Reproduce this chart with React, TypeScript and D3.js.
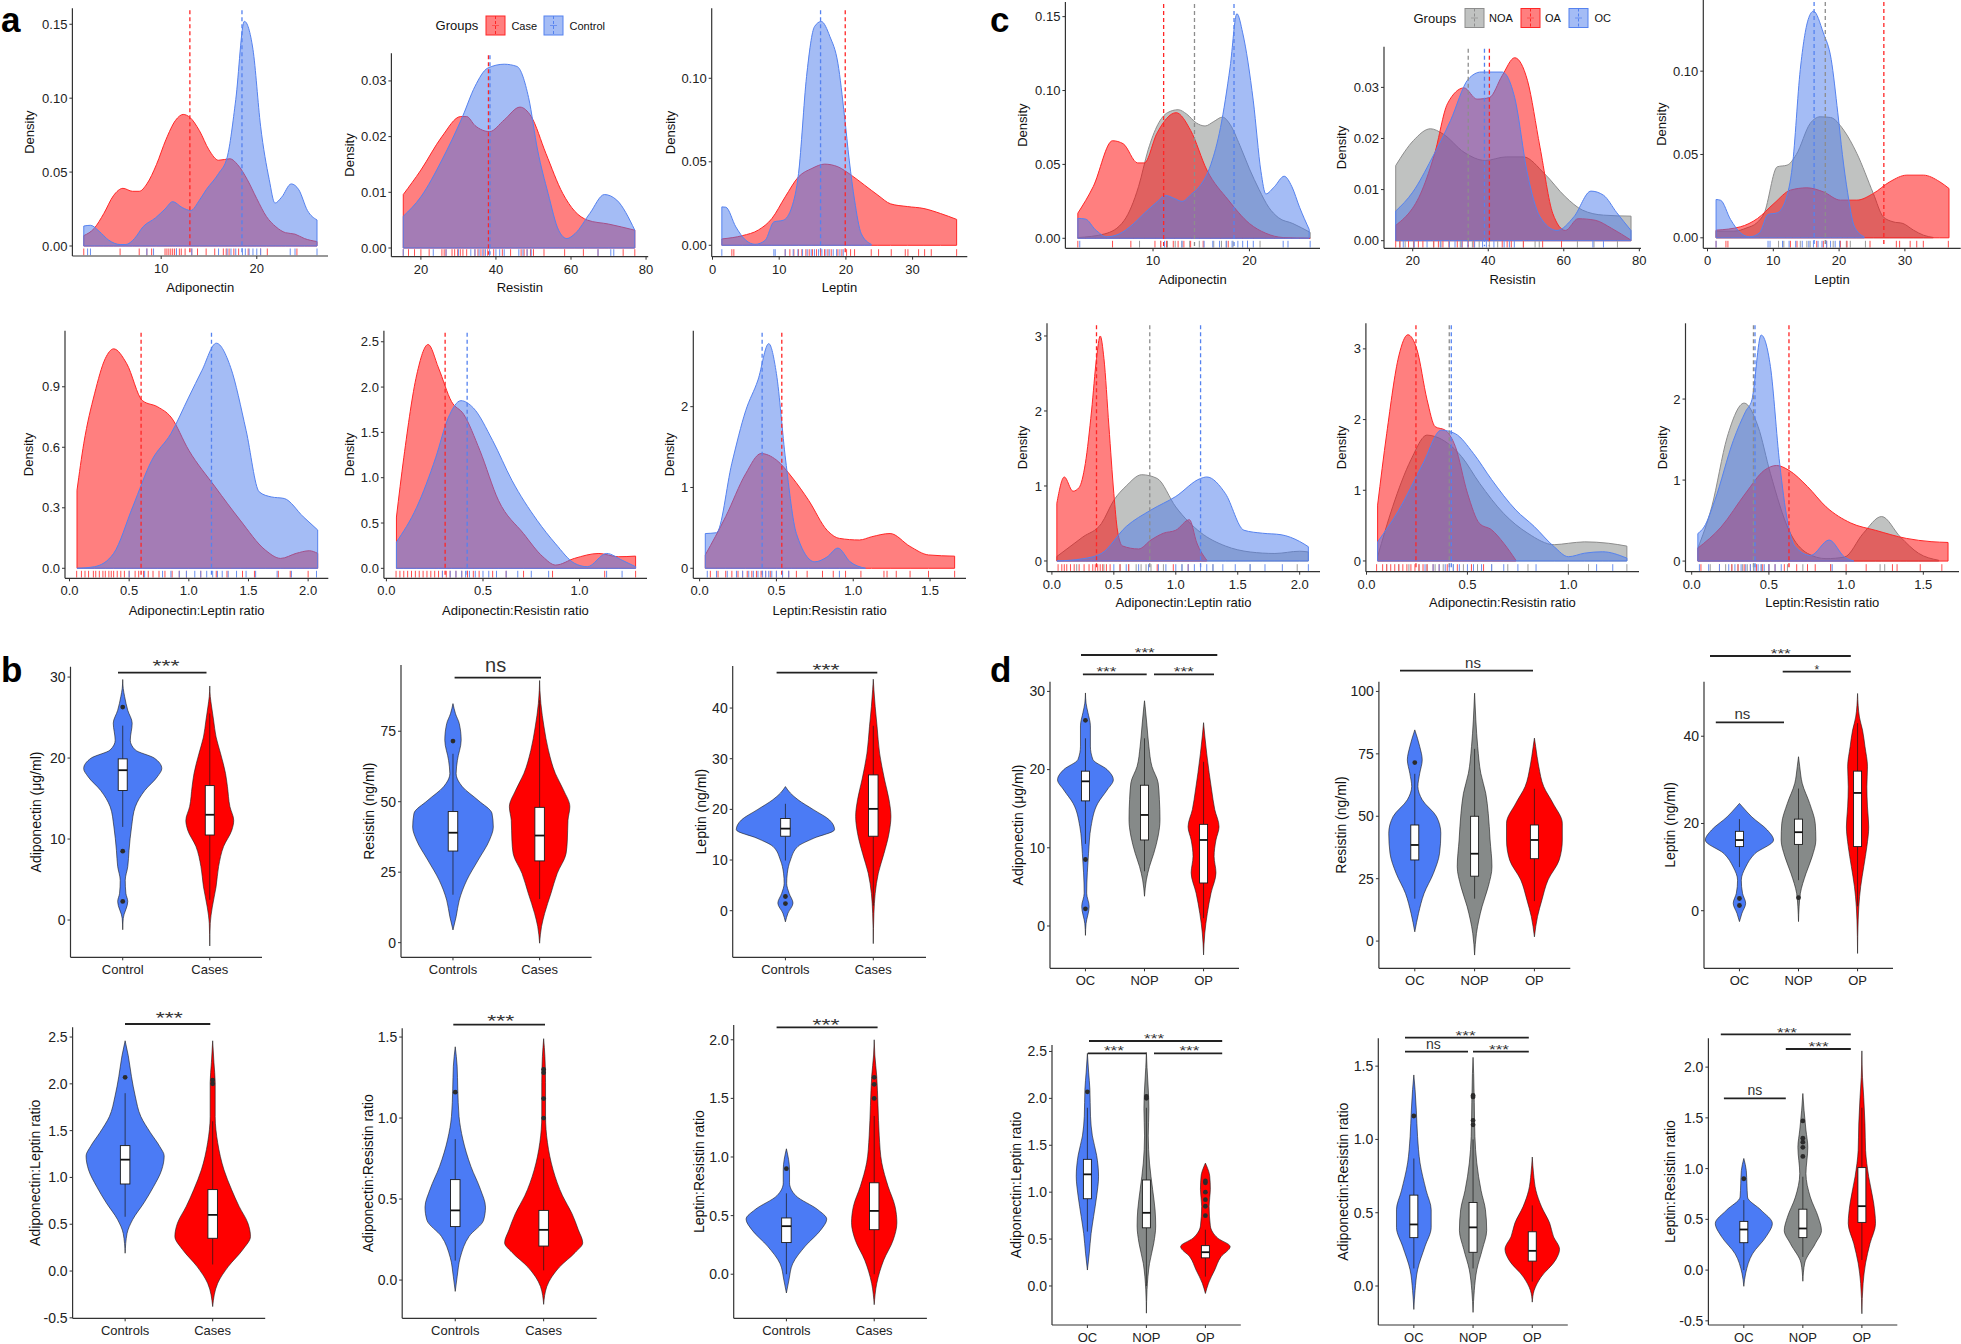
import React from "react";
import * as d3 from "d3";

type Pt = [number, number];
type Col = "red" | "blue" | "gray";

const FONT = "'Liberation Sans', Arial, Helvetica, sans-serif";
const FILL: Record<Col, string> = { red: "#ff0000", blue: "#4979eb", gray: "#818584" };
const LINE: Record<Col, string> = { red: "#ff2626", blue: "#5582ef", gray: "#8d8d8d" };
const RUG: Record<Col, string> = { red: "#ff5050", blue: "#6b90f0", gray: "#9c9c9c" };
const VIO: Record<Col, string> = { red: "#ff0000", blue: "#4b7bf5", gray: "#868a89" };

// group names / colours
const aGroups = ["Case", "Control"];
const cGroups = ["NOA", "OA", "OC"];
const aCols: Col[] = ["red", "blue"];
const cCols: Col[] = ["gray", "red", "blue"];
const bCats = ["Controls", "Cases"];
const dCats = ["OC", "NOP", "OP"];
const bCols: Col[] = ["blue", "red"];
const dCols: Col[] = ["blue", "gray", "red"];

// ---------------- density curves: [value, density] ----------------
const a1Case: Pt[] = [[1.9,0.007],[3,0.012],[4,0.022],[5,0.034],[6,0.039],[7,0.037],[7.7,0.037],[8.5,0.042],[9.5,0.055],[10.5,0.072],[11.5,0.085],[12.3,0.089],[13,0.087],[14,0.078],[15,0.065],[16,0.058],[17.2,0.059],[18,0.055],[19,0.045],[20,0.032],[21,0.02],[22,0.013],[23,0.009],[24,0.008],[25,0.005],[26.3,0.003]];
const a1Control: Pt[] = [[1.9,0.0135],[2.6,0.014],[3.5,0.01],[4.5,0.004],[5.7,0.001],[6.3,0.001],[7.2,0.005],[8.1,0.013],[9.4,0.019],[10.4,0.025],[11.2,0.03],[12.2,0.026],[13.1,0.024],[14,0.031],[14.7,0.038],[16,0.049],[16.9,0.06],[17.8,0.099],[18.7,0.152],[19.6,0.133],[20.4,0.081],[21.3,0.045],[21.9,0.029],[22.6,0.033],[23.6,0.042],[24.4,0.038],[25.3,0.024],[26.3,0.0176]];
const a2Case: Pt[] = [[15.3,0.0096],[20,0.014],[25.6,0.02],[30.6,0.0236],[32.2,0.0236],[34.4,0.022],[38.3,0.0209],[42.2,0.023],[46.4,0.0253],[49.4,0.0236],[53.3,0.017],[57.8,0.0098],[61,0.0066],[64.4,0.005],[70,0.0043],[77,0.0032]];
const a2Control: Pt[] = [[15.3,0.0057],[20,0.0092],[25.6,0.0158],[31.1,0.0236],[34.4,0.029],[37.8,0.0323],[42.2,0.033],[45.6,0.0326],[48.7,0.027],[51.1,0.0176],[53.9,0.0098],[56.7,0.0032],[58.9,0.0017],[61.1,0.0026],[65,0.0062],[68.9,0.0096],[72.2,0.0086],[77,0.0032]];
const a3Case: Pt[] = [[1.4,0.0038],[4.5,0.0058],[6.9,0.0092],[8.9,0.016],[10.9,0.029],[12.9,0.041],[14.9,0.046],[16.8,0.0486],[18.8,0.047],[20.8,0.042],[22.8,0.036],[24.8,0.03],[26.7,0.0248],[29.2,0.0232],[31.7,0.022],[34.2,0.019],[36.6,0.0155]];
const a3Control: Pt[] = [[1.4,0.023],[2,0.0228],[3.5,0.011],[5,0.003],[6.4,0.0006],[7.9,0.003],[9.2,0.014],[10.6,0.015],[11.9,0.023],[12.9,0.043],[14.1,0.101],[15.3,0.131],[16.3,0.134],[17.6,0.125],[18.8,0.109],[19.8,0.077],[20.5,0.051],[21.3,0.027],[22.3,0.007],[23.8,0.0006]];
const c1NOA: Pt[] = [[2.2,0.0005],[5,0.003],[7,0.012],[8.5,0.035],[9.5,0.06],[10.5,0.077],[11.5,0.085],[12.6,0.087],[13.5,0.084],[14.5,0.078],[15.4,0.076],[16.3,0.079],[17.2,0.082],[18,0.077],[19,0.063],[20,0.047],[21,0.033],[22,0.021],[23,0.014],[24.5,0.01],[26.3,0.004]];
const c1OA: Pt[] = [[2.2,0.017],[3.8,0.035],[5.8,0.066],[6.9,0.064],[8.4,0.051],[9.1,0.051],[10.4,0.071],[12.4,0.085],[13.9,0.073],[15.6,0.046],[17.8,0.026],[20,0.01],[21.7,0.0034],[23.5,0.0005],[26.3,0]];
const c1OC: Pt[] = [[2.2,0.0135],[3,0.013],[4,0.006],[5.2,0.001],[6.5,0.003],[8,0.01],[9.1,0.017],[10.3,0.024],[11.3,0.029],[12.2,0.027],[13,0.025],[14,0.03],[14.8,0.035],[16,0.05],[17,0.075],[18,0.116],[18.7,0.152],[19.3,0.139],[20.4,0.093],[21.2,0.045],[21.7,0.03],[22.6,0.035],[23.6,0.042],[24.4,0.035],[25.2,0.021],[26.2,0.006]];
const c2NOA: Pt[] = [[15.5,0.0147],[20.2,0.0196],[24.7,0.0219],[28,0.0209],[33.6,0.0173],[39.2,0.0157],[44.8,0.0164],[49.3,0.0164],[54.9,0.0131],[60.4,0.0086],[64.9,0.006],[70.5,0.005],[77.8,0.0048]];
const c2OA: Pt[] = [[15.5,0.003],[22.5,0.0099],[25.8,0.017],[29.2,0.0268],[33.6,0.0299],[37,0.0277],[40.3,0.028],[43.7,0.0323],[47,0.0358],[50.4,0.0313],[53.7,0.0183],[57.1,0.0053],[60.4,0.002],[63.8,0.0043],[68.3,0.004],[72.7,0.0024],[77.8,0.0001]];
const c2OC: Pt[] = [[15.5,0.0058],[20,0.0095],[25,0.016],[30,0.0235],[34.7,0.0316],[38.1,0.033],[43.7,0.033],[47,0.028],[50.4,0.013],[53.7,0.0047],[58.2,0.002],[62.7,0.0047],[67.2,0.0097],[70.5,0.0089],[74,0.0055],[77.8,0.002]];
const c3NOA: Pt[] = [[1.3,0.004],[4,0.004],[6,0.006],[7.5,0.009],[8.6,0.0146],[10.6,0.0426],[12.1,0.0436],[13.5,0.05],[15.6,0.0686],[17.1,0.0726],[18.7,0.0722],[20.7,0.0646],[22.7,0.0506],[25.2,0.0266],[26.7,0.0126],[28.2,0.0096],[29.7,0.0086],[31.3,0.0046],[32.8,0.0016],[34.3,0.0002]];
const c3OA: Pt[] = [[1.3,0.0046],[5,0.0066],[7.6,0.0116],[10.1,0.0206],[12.6,0.0286],[15.1,0.03],[17.6,0.0276],[20.2,0.0226],[22.7,0.0226],[25.2,0.0266],[27.7,0.0336],[30.3,0.0376],[32.8,0.0376],[35.3,0.0336],[36.7,0.0296]];
const c3OC: Pt[] = [[1.3,0.023],[2,0.0225],[3.5,0.011],[5,0.003],[6.4,0.0006],[7.9,0.003],[9.2,0.014],[10.6,0.015],[11.9,0.023],[12.9,0.043],[14.1,0.101],[15.3,0.131],[16.1,0.136],[17.6,0.123],[18.8,0.107],[19.8,0.075],[20.5,0.05],[21.3,0.027],[22.3,0.007],[23.8,0.0006]];
const a4Case: Pt[] = [[0.063,0.387],[0.12,0.62],[0.21,0.865],[0.3,1.04],[0.37,1.088],[0.48,1.014],[0.61,0.832],[0.74,0.8],[0.85,0.75],[1.0,0.585],[1.22,0.404],[1.43,0.239],[1.64,0.091],[1.77,0.049],[1.9,0.074],[2.01,0.087],[2.08,0.074]];
const a4Control: Pt[] = [[0.063,0],[0.21,0.008],[0.37,0.074],[0.53,0.305],[0.69,0.536],[0.85,0.668],[1.0,0.849],[1.11,0.981],[1.23,1.116],[1.35,0.997],[1.48,0.684],[1.59,0.379],[1.69,0.354],[1.8,0.346],[1.96,0.255],[2.08,0.19]];
const a5Case: Pt[] = [[0.052,0.566],[0.09,1.22],[0.157,2.135],[0.216,2.47],[0.27,2.21],[0.337,1.84],[0.4,1.7],[0.484,1.3],[0.58,0.75],[0.71,0.383],[0.81,0.128],[0.876,0.036],[0.974,0.11],[1.1,0.164],[1.2,0.128],[1.29,0.135]];
const a5Control: Pt[] = [[0.052,0.29],[0.157,0.675],[0.255,1.22],[0.32,1.66],[0.386,1.85],[0.45,1.77],[0.55,1.41],[0.65,0.97],[0.78,0.53],[0.876,0.27],[0.974,0.055],[1.04,0.018],[1.14,0.164],[1.22,0.09],[1.29,0.018]];
const a6Case: Pt[] = [[0.037,0.165],[0.17,0.64],[0.3,1.17],[0.4,1.42],[0.5,1.34],[0.6,1.13],[0.71,0.84],[0.83,0.47],[0.91,0.37],[1.04,0.35],[1.12,0.39],[1.24,0.43],[1.37,0.27],[1.49,0.165],[1.66,0.15]];
const a6Control: Pt[] = [[0.037,0.43],[0.11,0.44],[0.21,1.3],[0.3,1.95],[0.38,2.33],[0.45,2.78],[0.5,2.41],[0.56,1.34],[0.63,0.43],[0.75,0.08],[0.83,0.14],[0.9,0.25],[0.98,0.08],[1.08,0]];
const c4NOA: Pt[] = [[0.04,0.06],[0.25,0.32],[0.4,0.5],[0.5,0.81],[0.6,1.0],[0.725,1.15],[0.85,1.1],[1.0,0.72],[1.2,0.38],[1.4,0.2],[1.6,0.12],[1.8,0.1],[2.0,0.13],[2.07,0.12]];
const c4OA: Pt[] = [[0.04,0.77],[0.1,1.12],[0.17,0.93],[0.22,0.98],[0.27,1.3],[0.32,2.0],[0.36,2.7],[0.39,3.0],[0.42,2.7],[0.46,1.8],[0.5,0.9],[0.53,0.4],[0.57,0.2],[0.7,0.16],[0.8,0.28],[0.9,0.37],[1.0,0.41],[1.11,0.55],[1.17,0.24],[1.25,0.01]];
const c4OC: Pt[] = [[0.04,0],[0.25,0.03],[0.4,0.1],[0.6,0.46],[0.8,0.68],[1.0,0.86],[1.2,1.1],[1.25,1.12],[1.4,0.9],[1.55,0.41],[1.7,0.37],[1.85,0.35],[2.0,0.26],[2.07,0.19]];
const c5NOA: Pt[] = [[0.055,0.06],[0.13,0.77],[0.22,1.43],[0.3,1.78],[0.34,1.76],[0.4,1.67],[0.47,1.48],[0.56,1.1],[0.68,0.67],[0.8,0.39],[0.93,0.23],[1.0,0.25],[1.08,0.27],[1.2,0.25],[1.29,0.21]];
const c5OA: Pt[] = [[0.055,0.79],[0.1,1.8],[0.16,2.9],[0.205,3.2],[0.25,2.99],[0.3,2.28],[0.34,1.9],[0.39,1.85],[0.44,1.62],[0.5,0.96],[0.56,0.53],[0.62,0.44],[0.68,0.25],[0.74,0.01]];
const c5OC: Pt[] = [[0.055,0.27],[0.16,0.72],[0.28,1.38],[0.37,1.85],[0.44,1.8],[0.53,1.52],[0.62,1.15],[0.74,0.72],[0.83,0.49],[0.93,0.2],[1.0,0.06],[1.08,0.11],[1.17,0.13],[1.29,0.04]];
const c6NOA: Pt[] = [[0.04,0.16],[0.13,0.67],[0.23,1.53],[0.34,1.95],[0.43,1.66],[0.51,1.08],[0.63,0.38],[0.75,0.095],[0.87,0.03],[0.99,0.05],[1.11,0.34],[1.23,0.55],[1.35,0.3],[1.47,0.095],[1.6,0.01]];
const c6OA: Pt[] = [[0.04,0.16],[0.19,0.42],[0.35,0.84],[0.47,1.12],[0.55,1.18],[0.63,1.12],[0.75,0.92],[0.87,0.67],[1.03,0.47],[1.19,0.38],[1.39,0.28],[1.55,0.24],[1.66,0.23]];
const c6OC: Pt[] = [[0.04,0.34],[0.08,0.42],[0.15,0.75],[0.27,1.49],[0.35,1.85],[0.39,1.99],[0.45,2.79],[0.51,2.4],[0.57,1.2],[0.62,0.5],[0.67,0.18],[0.77,0.07],[0.89,0.26],[0.99,0.05],[1.05,0]];

// group means (dashed lines), in group order
const a1Mean = [13.0, 18.45], a2Mean = [38.0, 38.4], a3Mean = [19.9, 16.2];
const c1Mean = [14.3, 11.1, 18.4], c2Mean = [34.7, 40.3, 39.0], c3Mean = [17.9, 26.8, 16.2];
const a4Mean = [0.6, 1.19], a5Mean = [0.304, 0.418], a6Mean = [0.535, 0.407];
const c4Mean = [0.79, 0.36, 1.2], c5Mean = [0.41, 0.245, 0.42], c6Mean = [0.4, 0.63, 0.41];

// rug values
const a1Rug = [
  [1.9,5.7,7.7,8.5,9.0,10.4,10.6,10.8,11.0,11.2,11.4,11.6,11.9,12.1,12.5,13.2,13.8,14.7,15.6,16.5,16.8,17.1,17.6,18.1,19.1,20.4,21.1,24.2],
  [2.3,2.6,8.5,9.2,11.6,13.2,16,16.9,17.3,17.8,18.5,18.8,19.2,19.6,20.0,20.4,23.5,24.0,26.3],
];
const a2Rug = [
  [15.3,16.7,18.3,20,22.2,25.6,26.2,26.7,28.3,29,29.8,30.5,31.2,32.2,34.4,35.2,36,36.8,37.8,39.4,41.7,43.9,46.7,47.5,48.3,49.2,50,52.8,58.3,63.3,67.2,73.9,77],
  [15.3,23.3,26.7,30,33.3,34.4,35.5,36.5,37.2,38.3,40,41,42.2,46.1,47.2,48.3,49.4,67.2,70.6,71.4],
];
const a3Rug = [
  [2.9,3.2,10.9,11.6,12.2,12.9,13.4,14,14.5,15,15.6,16.2,16.8,17.3,17.8,18.8,19.4,20.1,20.7,21.3,23.8,24.9,26.8,28.9,29.3,30.9,31.8,32.8,36.6],
  [1.4,9.2,9.4,10.9,12.1,12.8,13.5,14.2,14.8,15.3,15.9,16.4,17,17.5,18.1,18.6,19.1,19.6],
];
const c1Rug = [
  [8.6,10.8,11.5,12.3,13,13.8,14.8,16.3,17.1,17.6,18.3,21.1],
  [2.2,5.8,7.7,10.2,10.8,11.4,12.1,12.6,13.2,13.9,15.2,17.8,19.8],
  [2.4,11.2,13,15.3,16.2,16.9,17.6,18.2,18.8,19.3,19.8,20.4,23.5,24,26.3],
];
const c2Rug = [
  [16.6,18,20.2,25.5,27.5,29.7,32.6,35.8,37.6,40.3,42.5,49.3,52.4,53.5,63.6,68,74.2],
  [15.5,16.6,18.9,20.3,21.5,22.7,25.6,26.8,28,29.6,31.8,33.1,34.7,36.2,43.7,45,46.1,49.3,54.4,59.4],
  [17.5,20.4,23.8,27.3,29.7,31.2,33,34.6,36.4,38.5,39.5,41.5,44.2,45.6,46.9,67.7,70.5],
];
const c3Rug = [
  [10.8,11.6,14.1,15.1,15.6,18.1,19.1,20.1,21.1,21.7,24],
  [1.3,2.8,3.1,12.6,13.6,16.6,17.6,18.1,20.2,21.2,24.7,28.7,29.2,30.8,31.8,32.8,36.6],
  [1.3,9.2,9.5,11.4,12.4,13.4,14.4,15.4,16.1,16.8,17.4,18.1,18.7,19.4,20.1],
];
const a4Rug = [
  [0.06,0.1,0.13,0.16,0.2,0.22,0.25,0.28,0.3,0.33,0.35,0.37,0.4,0.43,0.46,0.5,0.55,0.58,0.62,0.66,0.7,0.75,0.8,0.86,0.92,0.98,1.1,1.23,1.32,1.45,1.55,1.75,1.85,2.0],
  [0.5,0.63,0.78,0.85,0.92,0.98,1.05,1.1,1.15,1.2,1.24,1.28,1.33,1.4,1.48,1.56,1.74,1.86,2.07],
];
const a5Rug = [
  [0.05,0.07,0.09,0.11,0.13,0.15,0.17,0.19,0.21,0.23,0.25,0.27,0.29,0.31,0.33,0.36,0.39,0.42,0.45,0.48,0.55,0.62,0.71,0.86,1.13,1.29],
  [0.29,0.33,0.36,0.39,0.41,0.43,0.46,0.5,0.53,0.57,0.62,0.68,0.75,0.84,1.14,1.22],
];
const a6Rug = [
  [0.07,0.12,0.17,0.21,0.25,0.28,0.31,0.34,0.37,0.4,0.43,0.46,0.5,0.54,0.58,0.63,0.7,0.8,0.87,0.95,1.05,1.2,1.22,1.28,1.37,1.49,1.66],
  [0.05,0.11,0.18,0.24,0.28,0.32,0.35,0.38,0.41,0.43,0.45,0.47,0.5,0.54,0.58,0.91],
];
const c4Rug = [
  [0.2,0.42,0.55,0.62,0.68,0.72,0.76,0.8,0.9,1.05,1.3,1.6,1.98],
  [0.05,0.08,0.1,0.12,0.15,0.18,0.22,0.26,0.3,0.33,0.35,0.37,0.39,0.41,0.44,0.47,0.55,0.62,0.85,0.98,1.1],
  [0.5,0.6,0.7,0.78,0.86,0.92,1.0,1.05,1.1,1.15,1.2,1.25,1.3,1.38,1.48,1.6,1.72,1.86,2.07],
];
const c5Rug = [
  [0.1,0.16,0.21,0.26,0.3,0.34,0.38,0.43,0.48,0.55,0.62,0.7,0.8,1.0,1.1,1.29],
  [0.05,0.08,0.1,0.12,0.14,0.16,0.18,0.2,0.22,0.24,0.26,0.28,0.3,0.33,0.36,0.4,0.45,0.52,0.58],
  [0.29,0.33,0.36,0.39,0.41,0.43,0.46,0.5,0.53,0.57,0.62,0.68,0.75,0.84,1.14,1.22],
];
const c6Rug = [
  [0.12,0.18,0.22,0.26,0.3,0.33,0.36,0.4,0.45,0.5,0.62,0.72,0.9,1.22,1.25],
  [0.06,0.18,0.26,0.3,0.34,0.38,0.42,0.46,0.5,0.54,0.6,0.68,0.75,0.8,0.9,1.0,1.13,1.3,1.33,1.48,1.62],
  [0.05,0.11,0.18,0.24,0.28,0.32,0.35,0.38,0.41,0.43,0.45,0.47,0.5,0.54,0.58,0.91],
];

// ---------------- violin profiles: [value, relative half width] ----------------
const b1Control: Pt[] = [[-1.2,0],[0.2,0.8],[2.3,8],[3.3,5],[4.9,4],[6.6,8],[8.6,10],[11.5,14],[14,20],[16,35],[17.7,55],[18.7,62],[20,50],[21,20],[22.2,12],[24.3,15],[25.9,8],[27.6,3],[28.6,0.8],[29.7,0]];
const b1Cases: Pt[] = [[-3.2,0],[-0.4,0.8],[1.6,4],[4.1,10],[6.6,14],[9.1,22],[11.1,35],[12.3,38],[14,32],[16.5,28],[18.1,25],[20.6,17],[22.6,10],[24.7,6],[26.3,3],[27.6,0.8],[28.9,0]];
const b2Controls: Pt[] = [[4.5,0],[9.2,5],[15.1,10],[22.2,22],[29.3,40],[36.4,58],[41,64],[45.8,62],[50.5,40],[55.3,15],[60,5],[64.7,7],[71.8,13],[77.7,10],[81.2,4],[84.8,0]];
const b2Cases: Pt[] = [[-0.2,0],[5.7,3],[10.4,8],[17.5,18],[24.6,28],[31.6,42],[36.4,44],[43.4,45],[48.2,48],[54.1,38],[60,25],[68.2,14],[76.5,7],[84.8,2],[89.5,0.5],[93,0]];
const b3Controls: Pt[] = [[-2.2,0],[-0.5,4],[1.5,12],[3.4,6],[5.4,2],[7.4,3],[10,8],[12.7,20],[14.3,45],[16,78],[17.9,70],[19.9,45],[21.9,20],[23.2,8],[24.5,0]];
const b3Cases: Pt[] = [[-6.5,0],[-0.5,1],[3.4,3],[7.4,8],[11.3,17],[15.3,25],[18.6,28],[21.9,25],[25.8,18],[31.1,10],[36.4,6],[40.3,3],[43.6,1],[45.7,0]];
const b4Controls: Pt[] = [[0.19,0],[0.4,3],[0.55,12],[0.73,30],[0.9,45],[1.08,58],[1.23,62],[1.33,55],[1.48,40],[1.65,25],[1.87,16],[2.08,10],[2.3,5],[2.46,0]];
const b4Cases: Pt[] = [[-0.38,0],[-0.13,8],[0.05,25],[0.23,48],[0.37,60],[0.51,56],[0.69,42],[0.87,30],[1.08,18],[1.37,8],[1.65,4],[2.01,4],[2.23,2],[2.46,0]];
const b5Controls: Pt[] = [[-0.07,0],[0.02,3],[0.14,8],[0.27,22],[0.37,45],[0.45,48],[0.56,40],[0.7,25],[0.87,12],[1.01,6],[1.18,4],[1.32,3],[1.44,0]];
const b5Cases: Pt[] = [[-0.15,0],[-0.04,5],[0.08,25],[0.17,50],[0.23,62],[0.31,55],[0.41,45],[0.52,30],[0.68,15],[0.85,6],[1.01,3],[1.22,3],[1.38,2],[1.49,0]];
const b6Controls: Pt[] = [[-0.16,0],[-0.05,4],[0.09,10],[0.24,30],[0.38,55],[0.47,64],[0.55,50],[0.67,15],[0.78,5],[0.89,5],[1.07,0]];
const b6Cases: Pt[] = [[-0.26,0],[-0.08,4],[0.12,15],[0.29,30],[0.44,36],[0.58,33],[0.75,22],[0.95,12],[1.18,8],[1.44,6],[1.69,4],[1.87,1],[2.0,0]];
const d1OC: Pt[] = [[-1.2,0],[0.3,1],[2.5,6],[4.2,2],[6.8,3],[9.3,5],[12.7,9],[15.7,20],[17.4,35],[18.7,45],[20,35],[21.3,12],[23,8],[25.6,8],[27.3,4],[28.5,1],[29.8,0]];
const d1NOP: Pt[] = [[3.8,0],[5.9,3],[7.6,8],[9.3,15],[11.5,22],[13.6,25],[16.2,24],[18.3,22],[20.4,12],[23,7],[25.6,4],[28.1,1],[28.8,0]];
const d1OP: Pt[] = [[-3.7,0],[-0.9,2],[1.6,6],[4.2,12],[6.8,20],[8.9,17],[11,20],[12.7,25],[14.9,18],[17.4,13],[19.6,9],[22.1,5],[24.3,2],[26,0]];
const d2OC: Pt[] = [[3.7,0],[11.1,6],[19.1,15],[27.1,30],[35.2,40],[43.2,42],[49.9,35],[56.6,12],[61.9,5],[67.2,8],[72.6,12],[77.9,8],[84.6,0]];
const d2NOP: Pt[] = [[-5.6,0],[3.1,3],[13.8,12],[21.8,22],[29.8,28],[40.5,25],[51.2,22],[59.2,18],[67.2,10],[77.9,5],[88.6,2],[99.3,0]];
const d2OP: Pt[] = [[1.7,0],[9.8,5],[16.4,12],[24.5,22],[32.5,40],[40.5,45],[47.2,45],[55.2,30],[61.9,15],[69.9,7],[77.9,2],[81.3,0]];
const d3OC: Pt[] = [[-2.5,0],[-0.6,4],[1.7,10],[4,5],[7,3],[10,10],[13.1,25],[16.2,55],[18.5,45],[21.5,20],[23.8,5],[24.6,0]];
const d3NOP: Pt[] = [[-2.5,0],[0.9,1],[4,3],[8.5,12],[12.4,22],[16.2,28],[20,27],[24.6,18],[29.2,6],[33,2],[35.3,0]];
const d3OP: Pt[] = [[-9.8,0],[-2.1,1],[0.9,2],[5.5,5],[10.1,10],[14.7,15],[19.2,18],[23.8,16],[28.4,15],[33,16],[37.6,12],[41.4,8],[44.4,3],[49.8,0]];
const d4OC: Pt[] = [[0.17,0],[0.35,3],[0.56,6],[0.74,10],[0.96,15],[1.17,18],[1.39,15],[1.6,8],[1.81,5],[2.1,4],[2.28,2],[2.48,0]];
const d4NOP: Pt[] = [[-0.29,0],[-0.04,1],[0.24,5],[0.46,12],[0.64,15],[0.81,14],[1.03,10],[1.31,5],[1.6,3],[1.89,4],[2.1,3],[2.33,1],[2.49,0]];
const d4OP: Pt[] = [[-0.08,0],[0.03,5],[0.17,15],[0.31,25],[0.42,40],[0.51,20],[0.64,8],[0.85,6],[1.03,8],[1.17,7],[1.28,2],[1.31,0]];
const d5OC: Pt[] = [[-0.16,0],[-0.03,2],[0.11,6],[0.27,18],[0.4,28],[0.52,28],[0.65,20],[0.84,10],[1.02,6],[1.2,4],[1.34,2],[1.44,0]];
const d5NOP: Pt[] = [[-0.18,0],[-0.03,2],[0.11,6],[0.25,15],[0.38,22],[0.52,20],[0.65,13],[0.84,6],[1.02,3],[1.25,2],[1.45,1],[1.56,0]];
const d5OP: Pt[] = [[-0.11,0],[-0.03,3],[0.06,14],[0.18,38],[0.25,44],[0.34,34],[0.43,28],[0.54,15],[0.65,6],[0.77,2],[0.88,0]];
const d6OC: Pt[] = [[-0.16,0],[-0.03,3],[0.16,14],[0.33,36],[0.46,46],[0.59,28],[0.72,6],[0.85,5],[0.98,4],[1.1,0]];
const d6NOP: Pt[] = [[-0.11,0],[0.07,3],[0.26,20],[0.39,30],[0.52,25],[0.72,12],[0.95,5],[1.21,8],[1.38,5],[1.57,2],[1.74,0]];
const d6OP: Pt[] = [[-0.43,0],[-0.13,2],[0.07,6],[0.26,13],[0.46,22],[0.66,19],[0.92,11],[1.18,6],[1.44,5],[1.7,3],[1.9,1],[2.16,0]];

// box stats: [lower whisker, q1, median, q3, upper whisker]
const b1Box = [[11.5,16,18.5,19.9,24],[2.5,10.5,13,16.6,25.5]];
const b2Box = [[17,32.5,39,46.5,67],[15.5,29,38,48,86]];
const b3Box = [[9.9,14.7,16.2,18.2,21.1],[1,14.7,20.1,26.8,36.5]];
const b4Box = [[0.58,0.93,1.19,1.34,1.9],[0.07,0.35,0.6,0.87,1.6]];
const b5Box = [[0.12,0.33,0.43,0.62,0.87],[0.06,0.21,0.31,0.43,0.75]];
const b6Box = [[0.0,0.27,0.41,0.48,0.69],[0.0,0.38,0.54,0.78,1.35]];
const d1Box = [[10.5,16,18.5,19.8,24],[7,11,14.2,18,24],[1,5.5,11,13,21]];
const d2Box = [[17,32.5,38.5,46.5,67],[17,26,35,50,77],[16,33,40.5,46.5,61]];
const d3Box = [[10,14.7,16.2,18.2,21],[7,15.2,18,21,28],[1,14.7,27,32,43]];
const d4Box = [[0.58,0.93,1.19,1.35,1.9],[0.0,0.62,0.78,1.13,1.9],[0.1,0.3,0.36,0.43,0.6]];
const d5Box = [[0.12,0.33,0.42,0.62,0.87],[0.12,0.23,0.4,0.57,1.0],[0.03,0.17,0.24,0.37,0.55]];
const d6Box = [[0.0,0.27,0.4,0.48,0.69],[0.13,0.32,0.41,0.6,0.92],[0.1,0.47,0.63,1.01,1.6]];

// outliers
const b1Out = [[26.3,8.5,2.3],[]];
const b2Out = [[71.5],[]];
const b3Out = [[1.4,2.8],[]];
const b4Out = [[2.07],[2.0,2.04]];
const b5Out = [[1.16],[1.0,1.12,1.28,1.3]];
const b6Out = [[0.9],[1.5,1.62,1.68]];
const d1Out = [[26.3,8.5,2.2],[],[]];
const d2Out = [[71.5],[],[]];
const d3Out = [[1.2,2.8],[3],[]];
const d4Out = [[2.07],[2.0,2.02],[0.75,0.85,0.92,1.0,1.1,1.12]];
const d5Out = [[1.16],[1.1,1.13,1.29,1.3],[]];
const d6Out = [[0.9],[1.12,1.21,1.26,1.3,1.47],[]];

// ---------------- layout ----------------
type DPanel = {
  box: number[]; xd: [number, number]; yd: [number, number];
  xt: number[]; yt: number[]; xf: string; yf: string;
  xlab: string; xlabY: number; ylabX: number;
  dens: Pt[][]; rug: number[][]; mean: number[]; cols: Col[];
};

const densPanels: DPanel[] = [
  { box:[72.4,328,8.3,256], xd:[0.71,27.45], yd:[-0.00677,0.1608], xt:[10,20], yt:[0,0.05,0.1,0.15], xf:"d", yf:".2f", xlab:"Adiponectin", xlabY:291.5, ylabX:29.5, dens:[a1Case,a1Control], rug:a1Rug, mean:a1Mean, cols:aCols },
  { box:[391.4,648.2,53.3,256.7], xd:[12.14,80.57], yd:[-0.00156,0.03496], xt:[20,40,60,80], yt:[0,0.01,0.02,0.03], xf:"d", yf:".2f", xlab:"Resistin", xlabY:291.5, ylabX:349, dens:[a2Case,a2Control], rug:a2Rug, mean:a2Mean, cols:aCols },
  { box:[711.7,967.3,8.3,256.7], xd:[-0.12,38.2], yd:[-0.00683,0.1419], xt:[0,10,20,30], yt:[0,0.05,0.1], xf:"d", yf:".2f", xlab:"Leptin", xlabY:291.5, ylabX:670, dens:[a3Case,a3Control], rug:a3Rug, mean:a3Mean, cols:aCols },
  { box:[1065.4,1320,2,248.3], xd:[0.91,27.32], yd:[-0.00677,0.1599], xt:[10,20], yt:[0,0.05,0.1,0.15], xf:"d", yf:".2f", xlab:"Adiponectin", xlabY:283.5, ylabX:1022, dens:[c1NOA,c1OA,c1OC], rug:c1Rug, mean:c1Mean, cols:cCols },
  { box:[1384,1641,46.7,248.3], xd:[12.4,80.44], yd:[-0.00149,0.03796], xt:[20,40,60,80], yt:[0,0.01,0.02,0.03], xf:"d", yf:".2f", xlab:"Resistin", xlabY:283.5, ylabX:1341, dens:[c2NOA,c2OA,c2OC], rug:c2Rug, mean:c2Mean, cols:cCols },
  { box:[1703.3,1960.7,0,248.3], xd:[-0.64,38.48], yd:[-0.0063,0.1427], xt:[0,10,20,30], yt:[0,0.05,0.1], xf:"d", yf:".2f", xlab:"Leptin", xlabY:283.5, ylabX:1661.7, dens:[c3NOA,c3OA,c3OC], rug:c3Rug, mean:c3Mean, cols:cCols },
  { box:[65,328.3,330.7,578.3], xd:[-0.0377,2.169], yd:[-0.0496,1.178], xt:[0,0.5,1,1.5,2], yt:[0,0.3,0.6,0.9], xf:".1f", yf:".1f", xlab:"Adiponectin:Leptin ratio", xlabY:614.5, ylabX:28.4, dens:[a4Case,a4Control], rug:a4Rug, mean:a4Mean, cols:aCols },
  { box:[383.9,647,330.7,578.3], xd:[-0.0129,1.349], yd:[-0.11,2.622], xt:[0,0.5,1], yt:[0,0.5,1,1.5,2,2.5], xf:".1f", yf:".1f", xlab:"Adiponectin:Resistin ratio", xlabY:614.5, ylabX:349, dens:[a5Case,a5Control], rug:a5Rug, mean:a5Mean, cols:aCols },
  { box:[693.3,966,330.7,578.3], xd:[-0.041,1.734], yd:[-0.124,2.94], xt:[0,0.5,1,1.5], yt:[0,1,2], xf:".1f", yf:"d", xlab:"Leptin:Resistin ratio", xlabY:614.5, ylabX:669.3, dens:[a6Case,a6Control], rug:a6Rug, mean:a6Mean, cols:aCols },
  { box:[1047,1320,323.3,571.7], xd:[-0.0395,2.164], yd:[-0.143,3.169], xt:[0,0.5,1,1.5,2], yt:[0,1,2,3], xf:".1f", yf:"d", xlab:"Adiponectin:Leptin ratio", xlabY:607, ylabX:1022, dens:[c4NOA,c4OA,c4OC], rug:c4Rug, mean:c4Mean, cols:cCols },
  { box:[1365.9,1639,323.3,571.7], xd:[-0.003,1.35], yd:[-0.152,3.362], xt:[0,0.5,1], yt:[0,1,2,3], xf:".1f", yf:"d", xlab:"Adiponectin:Resistin ratio", xlabY:607, ylabX:1341, dens:[c5NOA,c5OA,c5OC], rug:c5Rug, mean:c5Mean, cols:cCols },
  { box:[1685.5,1959,323.3,571.7], xd:[-0.04,1.731], yd:[-0.131,2.935], xt:[0,0.5,1,1.5], yt:[0,1,2], xf:".1f", yf:"d", xlab:"Leptin:Resistin ratio", xlabY:607, ylabX:1662, dens:[c6NOA,c6OA,c6OC], rug:c6Rug, mean:c6Mean, cols:cCols },
];

type Sig = { x1: number; x2: number; y: number; t: string; tx: number; ty: number; fs: number; tl?: number };
type VPanel = {
  box: number[]; yd: [number, number]; yt: number[]; yf: string; cats: string[]; cols: Col[];
  ylab: string; ylabX: number; prof: Pt[][]; stats: number[][]; out: number[][];
  wk: number; bw: number; sig: Sig[];
};

const S3b = { fs: 16, tl: 27 };
const S3d = { fs: 12, tl: 20 };
const violinPanels: VPanel[] = [
  { box:[70.5,262,666.7,957.3], yd:[-4.6,31.28], yt:[0,10,20,30], yf:"d", cats:["Control","Cases"], cols:bCols, ylab:"Adiponectin (μg/ml)", ylabX:36, prof:[b1Control,b1Cases], stats:b1Box, out:b1Out, wk:0.63, bw:9,
    sig:[{x1:118,x2:206.5,y:672.7,t:"***",tx:166,ty:662.5,...S3b}] },
  { box:[401,591.6,665,957.3], yd:[-5.2,98.5], yt:[0,25,50,75], yf:"d", cats:bCats, cols:bCols, ylab:"Resistin (ng/ml)", ylabX:369.4, prof:[b2Controls,b2Cases], stats:b2Box, out:b2Out, wk:0.63, bw:9.5,
    sig:[{x1:454.6,x2:541,y:677.7,t:"ns",tx:495.6,ty:667,fs:20}] },
  { box:[732.7,926,666,957.3], yd:[-9.2,48.3], yt:[0,10,20,30,40], yf:"d", cats:bCats, cols:bCols, ylab:"Leptin (ng/ml)", ylabX:700.9, prof:[b3Controls,b3Cases], stats:b3Box, out:b3Out, wk:0.63, bw:9.5,
    sig:[{x1:776.6,x2:877.3,y:672.7,t:"***",tx:825.9,ty:666.3,...S3b}] },
  { box:[72.6,265.2,1027.3,1318.3], yd:[-0.505,2.604], yt:[-0.5,0,0.5,1,1.5,2,2.5], yf:".1f", cats:bCats, cols:bCols, ylab:"Adiponectin:Leptin ratio", ylabX:34.7, prof:[b4Controls,b4Cases], stats:b4Box, out:b4Out, wk:0.63, bw:9.5,
    sig:[{x1:125,x2:210.3,y:1024,t:"***",tx:169.2,ty:1014.5,...S3b}] },
  { box:[402.2,596.7,1028.3,1318.3], yd:[-0.236,1.554], yt:[0,0.5,1,1.5], yf:".1f", cats:bCats, cols:bCols, ylab:"Adiponectin:Resistin ratio", ylabX:367.5, prof:[b5Controls,b5Cases], stats:b5Box, out:b5Out, wk:0.63, bw:9.5,
    sig:[{x1:453.3,x2:545,y:1024.7,t:"***",tx:500.7,ty:1017.8,...S3b}] },
  { box:[733.7,926.9,1025,1318.3], yd:[-0.376,2.126], yt:[0,0.5,1,1.5,2], yf:".1f", cats:bCats, cols:bCols, ylab:"Leptin:Resistin ratio", ylabX:699, prof:[b6Controls,b6Cases], stats:b6Box, out:b6Out, wk:0.63, bw:9.5,
    sig:[{x1:776.6,x2:877.6,y:1027.3,t:"***",tx:825.9,ty:1021.7,...S3b}] },
  { box:[1050,1239,681.7,968.3], yd:[-5.41,31.24], yt:[0,10,20,30], yf:"d", cats:dCats, cols:dCols, ylab:"Adiponectin (μg/ml)", ylabX:1017.9, prof:[d1OC,d1NOP,d1OP], stats:d1Box, out:d1Out, wk:0.62, bw:8,
    sig:[{x1:1081,x2:1217.3,y:655,t:"***",tx:1144.8,ty:650,...S3d},{x1:1082.9,x2:1146.7,y:674.3,t:"***",tx:1106.4,ty:669.5,...S3d},{x1:1154,x2:1214,y:674.3,t:"***",tx:1183.8,ty:669.5,...S3d}] },
  { box:[1378.9,1570.3,681.7,968.3], yd:[-10.9,103.9], yt:[0,25,50,75,100], yf:"d", cats:dCats, cols:dCols, ylab:"Resistin (ng/ml)", ylabX:1341, prof:[d2OC,d2NOP,d2OP], stats:d2Box, out:d2Out, wk:0.62, bw:8,
    sig:[{x1:1400,x2:1533,y:670.7,t:"ns",tx:1473,ty:664,fs:15}] },
  { box:[1704,1893,681.7,968.3], yd:[-13.2,52.5], yt:[0,20,40], yf:"d", cats:dCats, cols:dCols, ylab:"Leptin (ng/ml)", ylabX:1670, prof:[d3OC,d3NOP,d3OP], stats:d3Box, out:d3Out, wk:0.62, bw:8,
    sig:[{x1:1710,x2:1850.8,y:656,t:"***",tx:1780.8,ty:651,...S3d},{x1:1782.7,x2:1850.8,y:671.7,t:"*",tx:1816.8,ty:666.7,fs:12},{x1:1715.8,x2:1784,y:722.3,t:"ns",tx:1742.4,ty:715,fs:15}] },
  { box:[1052,1240.8,1045,1325], yd:[-0.416,2.569], yt:[0,0.5,1,1.5,2,2.5], yf:".1f", cats:dCats, cols:dCols, ylab:"Adiponectin:Leptin ratio", ylabX:1016, prof:[d4OC,d4NOP,d4OP], stats:d4Box, out:d4Out, wk:0.62, bw:8,
    sig:[{x1:1089,x2:1222.2,y:1041,t:"***",tx:1154.1,ty:1036,...S3d},{x1:1087.8,x2:1146,y:1053.3,t:"***",tx:1113.9,ty:1048.5,...S3d},{x1:1154,x2:1222.2,y:1053.3,t:"***",tx:1189.4,ty:1048.5,...S3d}] },
  { box:[1378.3,1567.8,1038.3,1325], yd:[-0.266,1.69], yt:[0,0.5,1,1.5], yf:".1f", cats:dCats, cols:dCols, ylab:"Adiponectin:Resistin ratio", ylabX:1343, prof:[d5OC,d5NOP,d5OP], stats:d5Box, out:d5Out, wk:0.62, bw:8,
    sig:[{x1:1405,x2:1528.8,y:1037.7,t:"***",tx:1465.6,ty:1033,...S3d},{x1:1405,x2:1468,y:1051.7,t:"ns",tx:1433.4,ty:1045,fs:14},{x1:1473,x2:1528.8,y:1051.7,t:"***",tx:1499,ty:1047,...S3d}] },
  { box:[1708.4,1897.3,1038.3,1325], yd:[-0.541,2.284], yt:[-0.5,0,0.5,1,1.5,2], yf:".1f", cats:dCats, cols:dCols, ylab:"Leptin:Resistin ratio", ylabX:1670, prof:[d6OC,d6NOP,d6OP], stats:d6Box, out:d6Out, wk:0.62, bw:8,
    sig:[{x1:1720.8,x2:1850.8,y:1034.3,t:"***",tx:1787,ty:1030.5,...S3d},{x1:1785.8,x2:1850.8,y:1049,t:"***",tx:1818.6,ty:1044,...S3d},{x1:1723.9,x2:1785.8,y:1098.3,t:"ns",tx:1754.8,ty:1091,fs:14}] },
];

const fmt = (f: string) => (v: number) => d3.format(f)(v).replace("−", "-");
const AX = "#333";

function Axes({ x0, x1, y0, y1, xt, yt, xs, ys, xf, yf, yfs, xfs }: any) {
  return (
    <g fontFamily={FONT}>
      <line x1={x0} x2={x0} y1={y0} y2={y1} stroke={AX} strokeWidth={1.2} />
      <line x1={x0} x2={x1} y1={y1} y2={y1} stroke={AX} strokeWidth={1.2} />
      {yt.map((v: number) => (
        <g key={"y" + v}>
          <line x1={x0 - 3} x2={x0} y1={ys(v)} y2={ys(v)} stroke={AX} strokeWidth={1} />
          <text x={x0 - 5} y={ys(v) + yfs * 0.35} fontSize={yfs} textAnchor="end" fill="#222">{yf(v)}</text>
        </g>
      ))}
      {xt.map((v: any) => (
        <g key={"x" + v}>
          <line x1={xs(v)} x2={xs(v)} y1={y1} y2={y1 + 3} stroke={AX} strokeWidth={1} />
          <text x={xs(v)} y={y1 + 17} fontSize={xfs} textAnchor="middle" fill="#222">{xf ? xf(v) : v}</text>
        </g>
      ))}
    </g>
  );
}

function Density({ p }: { p: DPanel }) {
  const [x0, x1, y0, y1] = p.box;
  const xs = d3.scaleLinear().domain(p.xd).range([x0, x1]);
  const ys = d3.scaleLinear().domain(p.yd).range([y1, y0]);
  const area = d3.area<Pt>().x(d => xs(d[0])).y0(ys(0)).y1(d => ys(d[1])).curve(d3.curveMonotoneX);
  return (
    <g>
      {p.dens.map((d, i) => (
        <path key={"a" + i} d={area(d) || ""} fill={FILL[p.cols[i]]} fillOpacity={0.5} stroke={LINE[p.cols[i]]} strokeWidth={1} />
      ))}
      {p.mean.map((m, i) => (
        <line key={"m" + i} x1={xs(m)} x2={xs(m)} y1={y0 + 2} y2={y1 - 2} stroke={LINE[p.cols[i]]} strokeWidth={1.3} strokeDasharray="4,3" />
      ))}
      {p.rug.map((r, i) => r.map((v, j) => (
        <line key={"r" + i + "_" + j} x1={xs(v)} x2={xs(v)} y1={y1 - 7.5} y2={y1 - 0.8} stroke={RUG[p.cols[i]]} strokeWidth={1} />
      )))}
      <Axes x0={x0} x1={x1} y0={y0} y1={y1} xt={p.xt} yt={p.yt} xs={xs} ys={ys} xf={fmt(p.xf)} yf={fmt(p.yf)} yfs={13} xfs={13} />
      <text x={(x0 + x1) / 2} y={p.xlabY} fontSize={13} fontFamily={FONT} textAnchor="middle" fill="#111">{p.xlab}</text>
      <text transform={`translate(${p.ylabX + 4.5},${(y0 + y1) / 2}) rotate(-90)`} fontSize={13} fontFamily={FONT} textAnchor="middle" fill="#111">Density</text>
    </g>
  );
}

function Violin({ p }: { p: VPanel }) {
  const [x0, x1, y0, y1] = p.box;
  const xs = d3.scalePoint<string>().domain(p.cats).range([x0, x1]).padding(0.6);
  const ys = d3.scaleLinear().domain(p.yd).range([y1, y0]);
  return (
    <g>
      {p.prof.map((pr, i) => {
        const cx = xs(p.cats[i]) as number;
        const ar = d3.area<Pt>().y(d => ys(d[0])).x0(d => cx - d[1] * p.wk).x1(d => cx + d[1] * p.wk).curve(d3.curveMonotoneY);
        const [wl, q1, md, q3, wh] = p.stats[i];
        return (
          <g key={i}>
            <path d={ar(pr) || ""} fill={VIO[p.cols[i]]} stroke="#1a1a1a" strokeWidth={0.6} />
            <line x1={cx} x2={cx} y1={ys(wl)} y2={ys(q1)} stroke="#1a1a1a" strokeWidth={0.7} />
            <line x1={cx} x2={cx} y1={ys(q3)} y2={ys(wh)} stroke="#1a1a1a" strokeWidth={0.7} />
            <rect x={cx - p.bw / 2} y={ys(q3)} width={p.bw} height={ys(q1) - ys(q3)} fill="#fff" stroke="#1a1a1a" strokeWidth={0.9} />
            <line x1={cx - p.bw / 2} x2={cx + p.bw / 2} y1={ys(md)} y2={ys(md)} stroke="#111" strokeWidth={1.8} />
            {p.out[i].map((o, j) => (
              <circle key={j} cx={cx} cy={ys(o)} r={2.4} fill="#2b2b2b" />
            ))}
          </g>
        );
      })}
      <Axes x0={x0} x1={x1} y0={y0} y1={y1} xt={p.cats} yt={p.yt} xs={xs} ys={ys} xf={null} yf={fmt(p.yf)} yfs={14} xfs={13} />
      <text transform={`translate(${p.ylabX + 5},${(y0 + y1) / 2}) rotate(-90)`} fontSize={14} fontFamily={FONT} textAnchor="middle" fill="#111">{p.ylab}</text>
      {p.sig.map((s, i) => (
        <g key={"s" + i}>
          <line x1={s.x1} x2={s.x2} y1={s.y} y2={s.y} stroke="#222" strokeWidth={1.8} />
          <text x={s.tx} y={s.ty + (s.t.startsWith("*") ? 0.58 : 0.26) * s.fs} fontSize={s.fs} fontFamily={FONT} textAnchor="middle" fill="#333"
            {...(s.tl ? { textLength: s.tl, lengthAdjust: "spacingAndGlyphs" } : {})}>{s.t}</text>
        </g>
      ))}
    </g>
  );
}

function Legend({ x, y, names, cols, keyX, labX }: { x: number; y: number; names: string[]; cols: Col[]; keyX: number[]; labX: number[] }) {
  return (
    <g fontFamily={FONT}>
      <text x={x} y={y + 4.5} fontSize={13} fill="#111">Groups</text>
      {names.map((n, i) => (
        <g key={n}>
          <rect x={keyX[i]} y={y - 9.5} width={19} height={19} fill={FILL[cols[i]]} fillOpacity={0.5} stroke={LINE[cols[i]]} strokeWidth={1} />
          <line x1={keyX[i] + 9.5} x2={keyX[i] + 9.5} y1={y - 9.5} y2={y + 9.5} stroke={LINE[cols[i]]} strokeWidth={1} strokeDasharray="3,2" />
          <line x1={keyX[i] + 6} x2={keyX[i] + 13} y1={y} y2={y} stroke={RUG[cols[i]]} strokeWidth={1} />
          <text x={labX[i]} y={y + 4} fontSize={11} fill="#111">{n}</text>
        </g>
      ))}
    </g>
  );
}

export default function App() {
  return (
    <svg width={1961} height={1344} style={{ position: "absolute", left: 0, top: 0, background: "#fff" }}>
      <rect x={0} y={0} width={1961} height={1344} fill="#fff" />
      {densPanels.map((p, i) => <Density key={"d" + i} p={p} />)}
      {violinPanels.map((p, i) => <Violin key={"v" + i} p={p} />)}
      <Legend x={435.6} y={25.5} names={aGroups} cols={aCols} keyX={[486, 544]} labX={[511.4, 569.5]} />
      <Legend x={1413.5} y={18} names={cGroups} cols={cCols} keyX={[1465, 1521, 1569]} labX={[1489, 1545, 1594.5]} />
      <g fontFamily={FONT} fontWeight="bold" fontSize={35} fill="#000">
        <text x={1} y={32}>a</text>
        <text x={990} y={32}>c</text>
        <text x={1} y={682}>b</text>
        <text x={990} y={682}>d</text>
      </g>
    </svg>
  );
}
